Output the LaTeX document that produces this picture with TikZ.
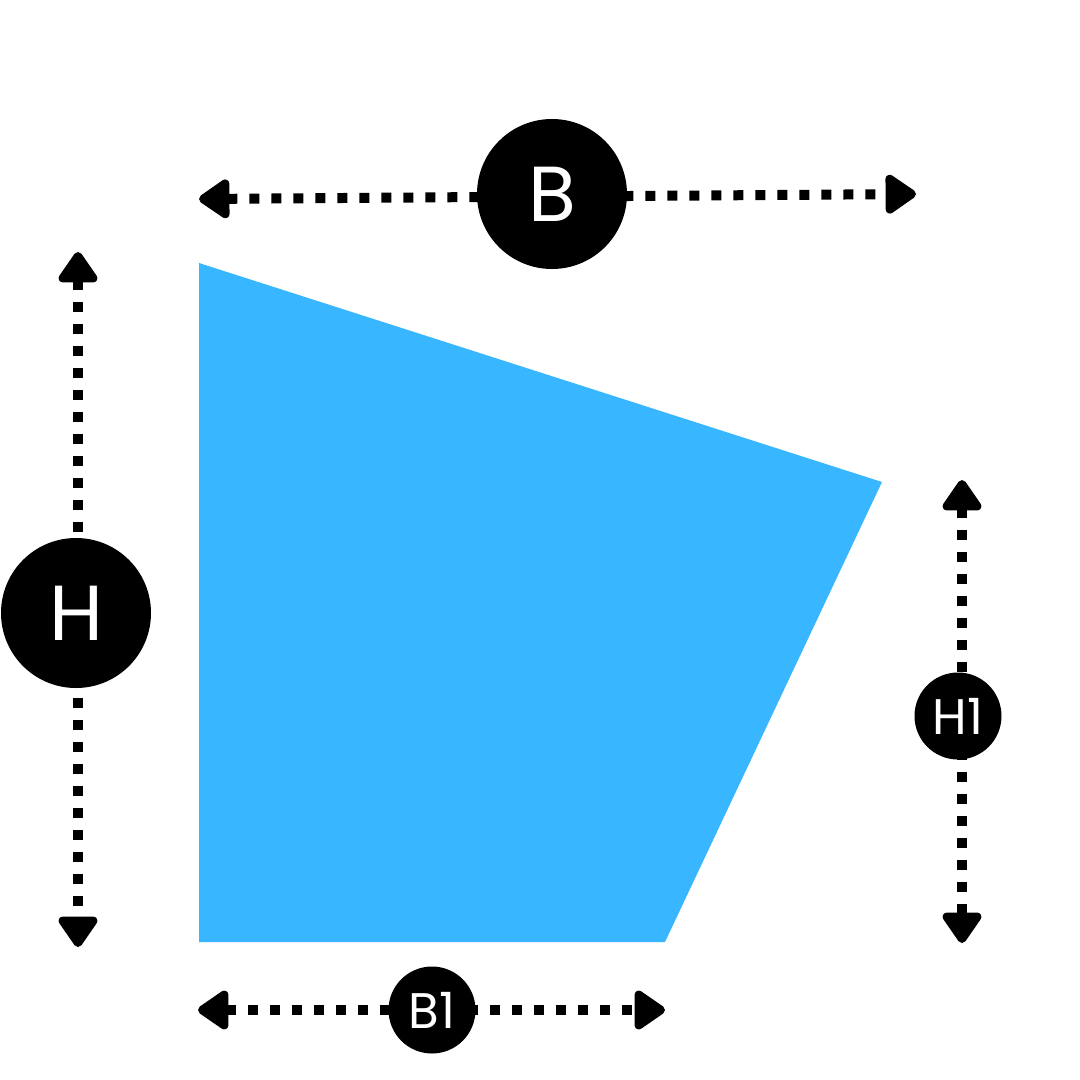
\documentclass[tikz,border=0pt]{standalone}
\usepackage{fontspec}
\setmainfont{Poppins}
\usetikzlibrary{arrows.meta}
\definecolor{skyblue}{HTML}{38B6FF}
\tikzset{
  dimline/.style={line width=10pt, dash pattern=on 10pt off 12pt,
    {Triangle[length=34pt,width=44pt,round]}-{Triangle[length=34pt,width=44pt,round]}},
  bigtag/.style={circle, fill=black, minimum size=150pt, inner sep=0pt, text=white, font=\fontsize{78}{78}\selectfont},
  smalltag/.style={circle, fill=black, minimum size=87pt, inner sep=0pt, text=white, font=\fontsize{50}{50}\selectfont},
}
\begin{document}
\begin{tikzpicture}[x=1pt,y=-1pt]
\useasboundingbox (0,0) rectangle (1080,1080);
\fill[skyblue] (199,263) -- (882,482) -- (665,942) -- (199,942) -- cycle;
% B
\coordinate (bl) at (199,199);
\coordinate (br) at (916,194);
\draw[dimline] (bl) -- (br);
\node[bigtag] (B) at (552,194) {B};
% H
\coordinate (ht) at (78,252);
\coordinate (hb) at (78,947);
\draw[dimline] (ht) -- (hb);
\node[bigtag] (H) at (76,613) {H};
% H1
\coordinate (h1t) at (962,480);
\coordinate (h1b) at (962,943);
\draw[dimline] (h1t) -- (h1b);
\node[smalltag] (H1) at (958,716) {H1};
% B1
\coordinate (b1l) at (198,1010);
\coordinate (b1r) at (665,1010);
\draw[dimline] (b1l) -- (b1r);
\node[smalltag] (B1) at (432,1010) {B1};
\end{tikzpicture}
\end{document}
